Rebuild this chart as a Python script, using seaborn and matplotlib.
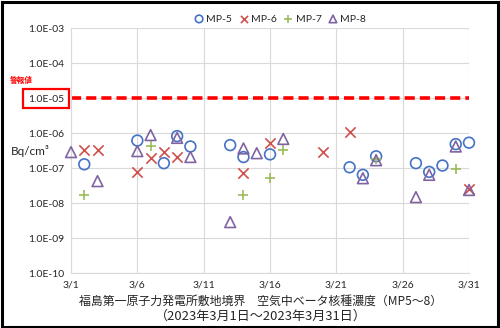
import matplotlib
matplotlib.use("Agg")
import matplotlib.pyplot as plt
from matplotlib.patches import Rectangle
from matplotlib.ticker import FixedLocator, FixedFormatter, NullLocator
import numpy as np
import pandas as pd
import seaborn as sns

# Daily readings (day of March, Bq/cm3)
mp5_days = [2, 6, 8, 9, 10, 13, 14, 16, 22, 23, 24, 27, 28, 29, 30, 31]
mp5_vals = [1.3e-7, 6.2e-7, 1.4e-7, 8.3e-7, 4.2e-7, 4.6e-7, 2.1e-7, 2.5e-7,
            1.07e-7, 6.5e-8, 2.2e-7, 1.4e-7, 7.9e-8, 1.2e-7, 4.9e-7, 5.4e-7]

mp6_days = [2, 3, 6, 7, 8, 9, 14, 16, 20, 22, 31]
mp6_vals = [3.3e-7, 3.3e-7, 7.7e-8, 2.0e-7, 2.9e-7, 2.1e-7, 7.4e-8, 5.4e-7,
            3.0e-7, 1.07e-6, 2.5e-8]

mp7_days = [2, 7, 14, 16, 17, 24, 30]
mp7_vals = [1.7e-8, 4.4e-7, 1.7e-8, 5.2e-8, 3.3e-7, 1.8e-7, 9.5e-8]

mp8_days = [1, 3, 6, 7, 9, 10, 13, 14, 15, 17, 23, 24, 27, 28, 30, 31]
mp8_vals = [2.9e-7, 4.3e-8, 3.1e-7, 8.9e-7, 7.4e-7, 2.1e-7, 2.9e-9, 3.7e-7,
            2.7e-7, 6.9e-7, 5.2e-8, 1.7e-7, 1.5e-8, 6.5e-8, 4.2e-7, 2.4e-8]

alarm_level = 1e-5
tick_days = [1, 6, 11, 16, 21, 26, 31]
tick_labels = ["3/1", "3/6", "3/11", "3/16", "3/21", "3/26", "3/31"]
decades = [1e-10, 1e-9, 1e-8, 1e-7, 1e-6, 1e-5, 1e-4, 1e-3]
decade_labels = ["1.0E-10", "1.0E-09", "1.0E-08", "1.0E-07", "1.0E-06",
                 "1.0E-05", "1.0E-04", "1.0E-03"]

sns.set_theme(style="white")
plt.rcParams["font.family"] = ["Lato", "Noto Sans CJK JP", "DejaVu Sans"]

W, H = 500, 328
fig = plt.figure(figsize=(W / 100, H / 100), dpi=100)
fig.patch.set_facecolor("white")
ax = fig.add_axes([71 / W, 1 - 273.3 / H, (469 - 71) / W, (273.3 - 28.3) / H])

blue, red, green, purple = "#4472C4", "#D0504D", "#9BBB59", "#8064A2"

series = [
    ("MP-5", mp5_days, mp5_vals, "o", blue, True),
    ("MP-6", mp6_days, mp6_vals, "x", red, False),
    ("MP-7", mp7_days, mp7_vals, "+", green, False),
    ("MP-8", mp8_days, mp8_vals, "^", purple, True),
]
for name, d, v, mk, col, hollow in series:
    df = pd.DataFrame({"day": d, "value": v})
    if hollow:
        sns.scatterplot(data=df, x="day", y="value", ax=ax, marker=mk, s=60,
                        color=col, facecolors="none", edgecolor=col,
                        linewidth=1.2, label=name, zorder=3, clip_on=False)
    else:
        sns.scatterplot(data=df, x="day", y="value", ax=ax, marker=mk, s=55,
                        color=col, linewidth=1.2, label=name, zorder=3,
                        clip_on=False)

ax.axhline(alarm_level, color="#FF0000", lw=2.6, dashes=(2.8, 1.4), zorder=2)

ax.set_yscale("log")
ax.set_ylim(1e-10, 1e-3)
ax.set_xlim(1, 31)
ax.yaxis.set_major_locator(FixedLocator(decades))
ax.yaxis.set_major_formatter(FixedFormatter(decade_labels))
ax.yaxis.set_minor_locator(NullLocator())
ax.set_xticks(tick_days)
ax.set_xticklabels(tick_labels)
ax.tick_params(axis="both", length=0, labelsize=7.5, colors="#262626", pad=5)
ax.set_xlabel("")
ax.set_ylabel("")
ax.grid(True, color="#D9D9D9", lw=0.8)
for side, sp in ax.spines.items():
    sp.set_visible(side in ("left", "bottom"))
    sp.set_color("#D9D9D9")
    sp.set_linewidth(0.8)

ax.legend(loc="center", bbox_to_anchor=(280 / W, 1 - 19 / H),
          bbox_transform=fig.transFigure, ncol=4, frameon=False,
          fontsize=7.5, handletextpad=0.2, columnspacing=0.6,
          handlelength=1.0, markerscale=0.7, borderaxespad=0)

# Alarm threshold label and box around its tick label
fig.text(21 / W, 1 - 80 / H, "警報値", color="#FF0000", fontsize=5.5,
         fontweight="bold", ha="center", va="center",
         family=["Noto Sans CJK JP", "DejaVu Sans"])
fig.add_artist(Rectangle((22.5 / W, 1 - 108 / H), 46 / W, 19.5 / H,
                         transform=fig.transFigure, fill=False,
                         edgecolor="#FF0000", lw=1.6))

fig.text(11 / W, 1 - 151 / H, "Bq/cm³", fontsize=8.5, ha="left",
         va="center", color="#262626")

fig.text(261 / W, 1 - 301 / H,
         "福島第一原子力発電所敷地境界　空気中ベータ核種濃度（MP5～8）",
         fontsize=8.6, ha="center", va="center", color="#262626",
         family=["Noto Sans CJK JP", "DejaVu Sans"])
fig.text(261 / W, 1 - 316 / H, "（2023年3月1日～2023年3月31日）",
         fontsize=9.4, ha="center", va="center", color="#262626",
         family=["Noto Sans CJK JP", "DejaVu Sans"])

# Outer frame
fig.add_artist(Rectangle((0.003, 0.004), 0.993, 0.991,
                         transform=fig.transFigure, fill=False,
                         edgecolor="black", lw=2.2))

fig.savefig("out.png", dpi=100, facecolor="white")
